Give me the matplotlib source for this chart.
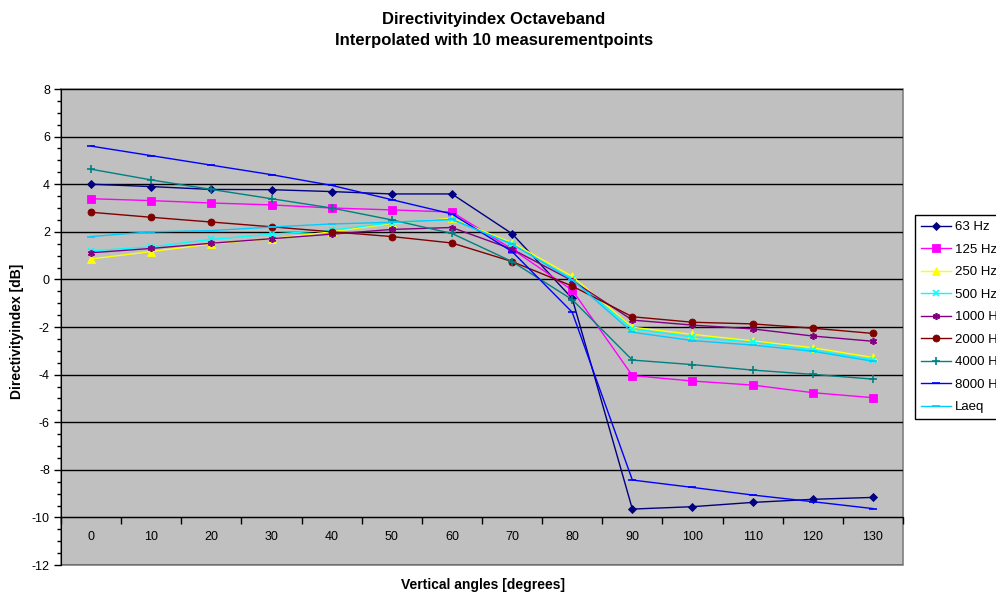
import numpy as np
import matplotlib
matplotlib.use("Agg")
import matplotlib.pyplot as plt
from matplotlib.patches import Rectangle
from matplotlib.ticker import MultipleLocator, FixedLocator

plt.rcParams['font.family'] = ['Liberation Sans', 'DejaVu Sans']
plt.rcParams['axes.unicode_minus'] = False

angles = [0, 10, 20, 30, 40, 50, 60, 70, 80, 90, 100, 110, 120, 130]

hz63 = [4.0, 3.9, 3.78, 3.77, 3.69, 3.59, 3.59, 1.92, -0.8, -9.65, -9.55, -9.37, -9.24, -9.16]
hz125 = [3.39, 3.31, 3.21, 3.13, 3.0, 2.92, 2.83, 1.27, -0.45, -4.04, -4.27, -4.44, -4.76, -4.97]
hz250 = [0.86, 1.17, 1.49, 1.71, 2.0, 2.35, 2.57, 1.54, 0.13, -2.01, -2.31, -2.58, -2.87, -3.28]
hz500 = [1.2, 1.37, 1.68, 1.9, 2.07, 2.38, 2.52, 1.48, 0.02, -2.08, -2.42, -2.64, -2.96, -3.38]
hz1000 = [1.12, 1.3, 1.52, 1.71, 1.9, 2.1, 2.18, 1.27, -0.05, -1.71, -1.92, -2.08, -2.38, -2.6]
hz2000 = [2.82, 2.61, 2.41, 2.21, 2.0, 1.8, 1.53, 0.75, -0.28, -1.57, -1.8, -1.87, -2.05, -2.27]
hz4000 = [4.63, 4.18, 3.78, 3.39, 3.0, 2.5, 1.93, 0.75, -0.85, -3.39, -3.58, -3.81, -3.99, -4.19]
hz8000 = [5.6, 5.2, 4.8, 4.4, 3.95, 3.35, 2.75, 1.17, -1.38, -8.43, -8.74, -9.06, -9.34, -9.63]
laeq = [1.8, 2.0, 2.05, 2.2, 2.33, 2.4, 2.52, 1.48, -0.02, -2.22, -2.57, -2.76, -3.02, -3.44]

# (label, values, colour, marker, markersize)
series = [
    ('63 Hz', hz63, '#000080', 'D', 4.5),
    ('125 Hz', hz125, '#FF00FF', 's', 5.5),
    ('250 Hz', hz250, '#FFFF00', '^', 6),
    ('500 Hz', hz500, '#00FFFF', 'x', 4.5),
    ('1000 Hz', hz1000, '#800080', (6, 2, 0), 5),
    ('2000 Hz', hz2000, '#800000', 'o', 5),
    ('4000 Hz', hz4000, '#008080', '+', 6),
    ('8000 Hz', hz8000, '#0000FF', '_', 6),
    ('Laeq', laeq, '#00CCFF', '_', 6),
]

fig = plt.figure(figsize=(9.96, 5.99), dpi=100)
ax = fig.add_axes([61 / 996, 1 - 565 / 599, 842 / 996, 476 / 599])
ax.set_facecolor('#C0C0C0')

x = np.arange(len(angles))
for label, vals, col, mk, ms in series:
    thin = isinstance(mk, tuple) or mk in ('x', '+', '_')
    ax.plot(x, vals, color=col, lw=1, marker=mk, markersize=ms,
            markeredgewidth=1.2 if thin else 0.6,
            markeredgecolor=col, markerfacecolor=col, label=label, zorder=3)

ax.set_xlim(-0.5, len(angles) - 0.5)
ax.set_ylim(-12, 8)

# y axis
ax.yaxis.set_major_locator(MultipleLocator(2))
ax.yaxis.set_minor_locator(MultipleLocator(0.5))
ax.tick_params(axis='y', which='major', direction='out', length=5, width=1,
               labelsize=9, pad=3)
ax.tick_params(axis='y', which='minor', direction='out', length=3, width=1)
ax.grid(axis='y', which='major', color='black', lw=1, zorder=1)
ax.set_axisbelow(True)

# category axis crossing at -10, ticks between categories
ax.spines['bottom'].set_position(('data', -10))
ax.xaxis.set_major_locator(FixedLocator(np.arange(-0.5, len(angles), 1)))
ax.xaxis.set_major_formatter(plt.NullFormatter())
ax.set_xticks(x, [str(a) for a in angles], minor=True)
ax.tick_params(axis='x', which='major', direction='out', length=5, width=1)
ax.tick_params(axis='x', which='minor', length=0, labelsize=9, pad=10)

for s in ('top', 'right'):
    ax.spines[s].set_visible(False)
ax.spines['left'].set_color('black')
ax.spines['bottom'].set_color('black')
ax.add_patch(Rectangle((0, 0), 1, 1, transform=ax.transAxes, fill=False,
                       ec='#808080', lw=1.2, clip_on=False, zorder=0.5))

fig.text(494 / 996, 1 - 30 / 599,
         'Directivityindex Octaveband\nInterpolated with 10 measurementpoints',
         ha='center', va='center', fontsize=12, fontweight='bold', linespacing=1.55)
fig.text(483 / 996, 1 - 585 / 599, 'Vertical angles [degrees]',
         ha='center', va='center', fontsize=10, fontweight='bold')
fig.text(17 / 996, 1 - 331 / 599, 'Directivityindex [dB]', rotation=90,
         ha='center', va='center', fontsize=10, fontweight='bold')

leg = ax.legend(loc='upper left', bbox_to_anchor=(915 / 996, 1 - 215 / 599),
                bbox_transform=fig.transFigure, borderaxespad=0, fontsize=9.5,
                frameon=True, fancybox=False, edgecolor='black', framealpha=1,
                handlelength=2.3, handletextpad=0.3, labelspacing=0.78,
                borderpad=0.45)
leg.get_frame().set_linewidth(1)

fig.savefig('out.png', dpi=100)
